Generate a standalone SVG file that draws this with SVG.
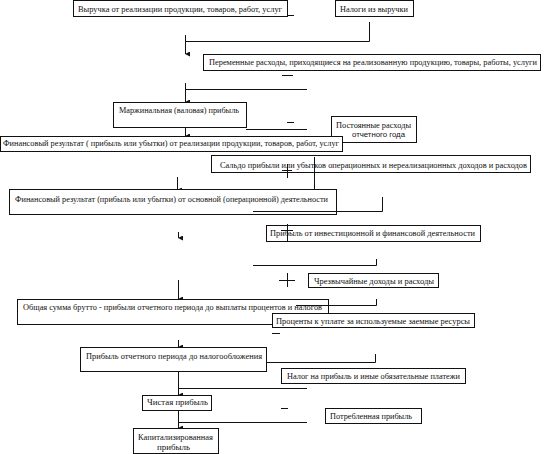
<svg xmlns="http://www.w3.org/2000/svg" width="544" height="454" viewBox="0 0 544 454">
<defs>
<marker id="ah" markerWidth="5" markerHeight="5" refX="2.5" refY="4.5" orient="auto-start-reverse" markerUnits="userSpaceOnUse" viewBox="0 0 5 5">
<path d="M0,0 L5,0 L2.5,5 Z" fill="#111"/>
</marker>
<style>
.b{fill:#fff;stroke:#111;stroke-width:1}
.t{font-family:"Liberation Serif","Times New Roman",serif;font-size:8.5px;fill:#111}
.s{font-family:"Liberation Sans",Arial,sans-serif;font-size:7.5px;fill:#111}
.c line,.c polyline{stroke:#111;stroke-width:1;fill:none}
.a{marker-end:url(#ah)}
</style>
</defs>
<rect width="544" height="454" fill="#fff"/>

<g id="n_postoyannye">
<rect class="b" x="331.5" y="116.5" width="85" height="26"/>
<text class="t" x="336" y="128" textLength="75" lengthAdjust="spacingAndGlyphs">Постоянные расходы</text>
<text class="s" x="352" y="137" textLength="53" lengthAdjust="spacingAndGlyphs">отчетного года</text>
</g>

<g class="c" id="connectors">
<line x1="288" y1="15.5" x2="294" y2="15.5"/>
<polyline points="369.5,22 369.5,41.5 185.5,41.5"/>
<line class="a" x1="185.5" y1="35" x2="185.5" y2="54"/>
<line x1="282" y1="75.5" x2="293" y2="75.5"/>
<line x1="185" y1="89.5" x2="307" y2="89.5"/>
<line class="a" x1="185.5" y1="83" x2="185.5" y2="102"/>
<line x1="287" y1="122.5" x2="294" y2="122.5"/>
<line x1="246" y1="129.5" x2="307" y2="129.5"/>
<line class="a" x1="185.5" y1="127" x2="185.5" y2="136"/>
<line class="a" x1="177.5" y1="177" x2="177.5" y2="190"/>
<line class="a" x1="178.5" y1="232" x2="178.5" y2="238"/>
<line x1="253" y1="265.5" x2="376.5" y2="265.5"/>
<line x1="376.5" y1="259" x2="376.5" y2="265.5"/>
<line x1="279" y1="280.5" x2="295" y2="280.5"/>
<line x1="287.5" y1="273" x2="287.5" y2="287"/>
<line class="a" x1="178.5" y1="280" x2="178.5" y2="299"/>
<line class="a" x1="178.5" y1="340" x2="178.5" y2="347"/>
<line x1="272" y1="333.5" x2="280" y2="333.5"/>
<line x1="253" y1="362.5" x2="375.5" y2="362.5"/>
<line x1="375.5" y1="354" x2="375.5" y2="362.5"/>
<line class="a" x1="178.5" y1="372" x2="178.5" y2="395"/>
<line x1="178" y1="388.5" x2="307" y2="388.5"/>
<line x1="281" y1="408.5" x2="288" y2="408.5"/>
<line class="a" x1="178.5" y1="410" x2="178.5" y2="428"/>
<line x1="178" y1="422.5" x2="307" y2="422.5"/>
</g>

<g id="n_vyruchka">
<rect class="b" x="73.5" y="0.5" width="214" height="16"/>
<text class="t" x="78" y="12" textLength="204" lengthAdjust="spacingAndGlyphs">Выручка от реализации продукции, товаров, работ, услуг</text>
</g>
<g id="n_nalogi">
<rect class="b" x="335.5" y="0.5" width="78" height="16"/>
<text class="t" x="340" y="12" textLength="68" lengthAdjust="spacingAndGlyphs">Налоги из выручки</text>
</g>
<g id="n_peremennye">
<rect class="b" x="203.5" y="54.5" width="337" height="16"/>
<text class="t" x="209" y="65" textLength="328" lengthAdjust="spacingAndGlyphs">Переменные расходы, приходящиеся на реализованную продукцию, товары, работы, услуги</text>
</g>
<g id="n_marzh">
<rect class="b" x="113.5" y="102.5" width="133" height="25"/>
<text class="t" x="119" y="113" textLength="120" lengthAdjust="spacingAndGlyphs">Маржинальная (валовая) прибыль</text>
</g>
<g id="n_finrez1">
<rect class="b" x="0.5" y="136.5" width="342" height="15"/>
<text class="t" x="3" y="146" textLength="336" lengthAdjust="spacingAndGlyphs">Финансовый результат ( прибыль или убытки) от реализации продукции, товаров, работ, услуг</text>
</g>
<g id="n_saldo">
<rect class="b" x="211.5" y="155.5" width="319" height="17"/>
<text class="t" x="220" y="168" textLength="307" lengthAdjust="spacingAndGlyphs">Сальдо прибыли или убытков операционных и нереализационных доходов и расходов</text>
</g>
<g id="n_finrez2">
<rect class="b" x="9.5" y="189.5" width="327" height="25"/>
<text class="t" x="15" y="202" textLength="313" lengthAdjust="spacingAndGlyphs">Финансовый результат (прибыль или убытки) от основной (операционной) деятельности</text>
</g>
<g id="n_invest">
<rect class="b" x="266.5" y="225.5" width="214" height="16"/>
<text class="t" x="270" y="236" textLength="205" lengthAdjust="spacingAndGlyphs">Прибыль от инвестиционной и финансовой деятельности</text>
</g>
<g id="n_chrezv">
<rect class="b" x="308.5" y="273.5" width="130" height="14"/>
<text class="t" x="314" y="284" textLength="120" lengthAdjust="spacingAndGlyphs">Чрезвычайные доходы и расходы</text>
</g>
<g id="n_brutto">
<rect class="b" x="17.5" y="299.5" width="311" height="25"/>
<text class="t" x="23" y="310" textLength="299" lengthAdjust="spacingAndGlyphs">Общая сумма брутто - прибыли отчетного периода до выплаты процентов и налогов</text>
</g>
<g id="n_procenty">
<rect class="b" x="272.5" y="313.5" width="202" height="14"/>
<text class="t" x="276" y="324" textLength="194" lengthAdjust="spacingAndGlyphs">Проценты к уплате за используемые заемные ресурсы</text>
</g>
<g id="n_donalog">
<rect class="b" x="80.5" y="347.5" width="186" height="24"/>
<text class="t" x="86" y="359" textLength="176" lengthAdjust="spacingAndGlyphs">Прибыль отчетного периода до налогообложения</text>
</g>
<g id="n_nalog">
<rect class="b" x="281.5" y="368.5" width="184" height="15"/>
<text class="t" x="287" y="379" textLength="173" lengthAdjust="spacingAndGlyphs">Налог на прибыль и иные обязательные платежи</text>
</g>
<g id="n_chistaya">
<rect class="b" x="142.5" y="395.5" width="69" height="15"/>
<text class="t" x="147" y="405" textLength="61" lengthAdjust="spacingAndGlyphs">Чистая прибыль</text>
</g>
<g id="n_potreb">
<rect class="b" x="325.5" y="408.5" width="96" height="15"/>
<text class="t" x="330" y="419" textLength="82" lengthAdjust="spacingAndGlyphs">Потребленная прибыль</text>
</g>
<g id="n_kapital">
<rect class="b" x="133.5" y="428.5" width="85" height="25"/>
<text class="t" x="138" y="440" textLength="75" lengthAdjust="spacingAndGlyphs">Капитализированная</text>
<text class="t" x="157" y="450" textLength="33" lengthAdjust="spacingAndGlyphs">прибыль</text>
</g>

<g class="c" id="connectors_over">
<line x1="314.5" y1="157" x2="314.5" y2="190"/>
<polyline points="253,211.5 382.5,211.5 382.5,197"/>
<line x1="282" y1="170.5" x2="292" y2="170.5"/>
<line x1="287.5" y1="164" x2="287.5" y2="178"/>
<line x1="281" y1="230.5" x2="293" y2="230.5"/>
<line x1="287.5" y1="224" x2="287.5" y2="241"/>
<polyline points="296,305.5 376.5,305.5 376.5,299"/>
</g>
</svg>
